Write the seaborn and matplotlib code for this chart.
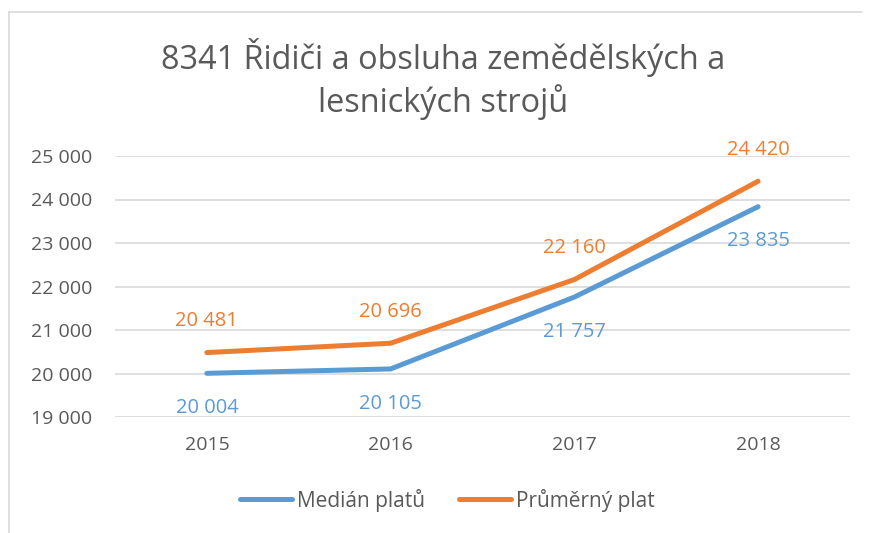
import matplotlib
matplotlib.use("Agg")
import matplotlib.pyplot as plt
import seaborn as sns
import pandas as pd
from matplotlib.lines import Line2D
from matplotlib.ticker import FuncFormatter

years = ["2015", "2016", "2017", "2018"]
median_vals = [20004, 20105, 21757, 23835]
mean_vals = [20481, 20696, 22160, 24420]
series_names = ["Medián platů", "Průměrný plat"]
title = "8341 Řidiči a obsluha zemědělských a\nlesnických strojů"

blue = "#5B9BD5"
orange = "#ED7D31"
txt = "#595959"
grid = "#D9D9D9"

df = pd.DataFrame({
    "pos": list(range(len(years))) * 2,
    "value": median_vals + mean_vals,
    "series": [series_names[0]] * len(years) + [series_names[1]] * len(years),
})

sns.set_theme(style="white")
plt.rcParams["font.family"] = ["Open Sans", "DejaVu Sans"]

fig = plt.figure(figsize=(8.72, 5.33), dpi=100)
ax = fig.add_axes([115 / 872, 1 - 417 / 533, (850 - 115) / 872, (417 - 156) / 533])

sns.lineplot(data=df, x="pos", y="value", hue="series",
             palette=[blue, orange], linewidth=3.6, ax=ax, legend=False,
             solid_capstyle="round")

ax.set_xlim(-0.5, len(years) - 0.5)
ax.set_ylim(19000, 25000)
ax.set_yticks(range(19000, 25001, 1000))
ax.yaxis.set_major_formatter(FuncFormatter(lambda v, p: f"{int(v):,}".replace(",", " ")))
ax.set_xticks(range(len(years)))
ax.set_xticklabels(years)
ax.set_xlabel("")
ax.set_ylabel("")
ax.tick_params(axis="both", length=0, labelsize=14, colors=txt)
ax.tick_params(axis="y", pad=16.5)
ax.tick_params(axis="x", pad=14)
ax.grid(axis="y", color=grid, linewidth=1.2)
for s in ax.spines.values():
    s.set_visible(False)

fmt = lambda v: f"{v:,}".replace(",", " ")
for i, v in enumerate(median_vals):
    ax.annotate(fmt(v), (i, v), xytext=(0, -25), textcoords="offset points",
                ha="center", va="center", color=blue, fontsize=14.5)
for i, v in enumerate(mean_vals):
    ax.annotate(fmt(v), (i, v), xytext=(0, 22.5), textcoords="offset points",
                ha="center", va="center", color=orange, fontsize=14.5)

fig.text(443 / 872, 1 - 79 / 533, title, ha="center", va="center",
         fontsize=23.4, color=txt, linespacing=1.27)

handles = [Line2D([0], [0], color=blue, lw=3.6, solid_capstyle="round"),
           Line2D([0], [0], color=orange, lw=3.6, solid_capstyle="round")]
fig.legend(handles, series_names, loc="center", bbox_to_anchor=(447.5 / 872, 1 - 500 / 533),
           ncol=2, frameon=False, fontsize=15, labelcolor=txt, handlelength=2.5,
           columnspacing=1.6, handletextpad=0.25)

fig.add_artist(Line2D([9 / 872, 9 / 872], [0, 1 - 12 / 533], color=grid, lw=1.2,
                      transform=fig.transFigure))
fig.add_artist(Line2D([9 / 872, 862 / 872], [1 - 12 / 533, 1 - 12 / 533], color=grid, lw=1.2,
                      transform=fig.transFigure))

fig.savefig("out.png", dpi=100, facecolor="white")
